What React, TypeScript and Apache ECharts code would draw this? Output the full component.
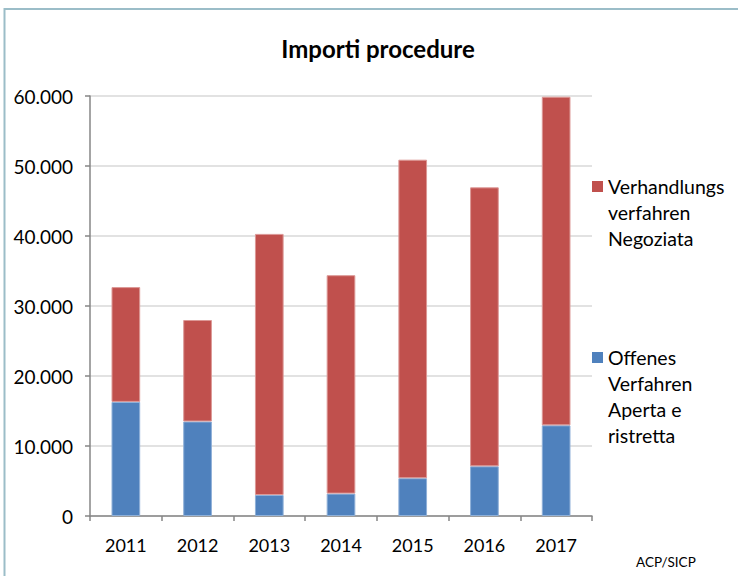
import React, { useEffect, useRef } from "react";
import * as echarts from "echarts";

const years = ["2011", "2012", "2013", "2014", "2015", "2016", "2017"];
const offenes = [16300, 13500, 3000, 3200, 5400, 7100, 12950];
const verhandlungs = [16400, 14500, 37300, 31200, 45500, 39850, 46950];
const seriesNames = ["Offenes Verfahren Aperta e ristretta", "Verhandlungsverfahren Negoziata"];
const legendLinesRed = ["Verhandlungs", "verfahren", "Negoziata"];
const legendLinesBlue = ["Offenes", "Verfahren", "Aperta e", "ristretta"];
const titleText = "Importi procedure";
const sourceText = "ACP/SICP";

const FONT = "Lato";
const RED = "#C0504D";
const BLUE = "#4F81BD";

const fmt = (v: number) => String(v).replace(/\B(?=(\d{3})+(?!\d))/g, ".");

export default function App() {
  const ref = useRef<HTMLDivElement>(null);
  useEffect(() => {
    document.body.style.margin = "0";
    const chart = echarts.init(ref.current!, undefined, { renderer: "svg" });
    chart.setOption({
      animation: false,
      backgroundColor: "#ffffff",
      textStyle: { fontFamily: FONT },
      title: {
        text: titleText,
        left: 373,
        textAlign: "center",
        top: 31,
        textStyle: { fontFamily: FONT, fontSize: 24, fontWeight: "bold", color: "#000" },
      },
      grid: { left: 90, right: 146, top: 96, bottom: 60, containLabel: false },
      xAxis: {
        type: "category",
        data: years,
        axisLine: { lineStyle: { color: "#868686", width: 1.5 } },
        axisTick: { show: true, length: 5, lineStyle: { color: "#868686", width: 1.5 } },
        axisLabel: { color: "#000", fontSize: 18, fontFamily: FONT, margin: 20 },
      },
      yAxis: {
        type: "value",
        min: 0,
        max: 60000,
        interval: 10000,
        axisLine: { show: true, lineStyle: { color: "#868686", width: 1.5 } },
        axisTick: { show: true, length: 5, lineStyle: { color: "#868686", width: 1.5 } },
        splitLine: { lineStyle: { color: "#D9D9D9", width: 1.5 } },
        axisLabel: { color: "#000", fontSize: 19, fontFamily: FONT, margin: 17, formatter: fmt },
      },
      series: [
        {
          name: seriesNames[0],
          type: "bar",
          stack: "t",
          data: offenes,
          barWidth: "40%",
          itemStyle: { color: BLUE, borderColor: "#8fb0d8", borderWidth: 1 },
        },
        {
          name: seriesNames[1],
          type: "bar",
          stack: "t",
          data: verhandlungs,
          barWidth: "40%",
          itemStyle: { color: RED, borderColor: "#dc9896", borderWidth: 1 },
        },
      ],
      graphic: [
        {
          type: "rect",
          silent: true,
          z: -10,
          shape: { x: 4.5, y: 9, width: 760, height: 600 },
          style: { fill: "none", stroke: "#9BBDC8", lineWidth: 2 },
        },
        {
          type: "rect",
          left: 592,
          top: 181,
          shape: { width: 11, height: 11 },
          style: { fill: RED },
        },
        {
          type: "text",
          left: 608,
          top: 173,
          style: { text: legendLinesRed.join("\n"), fontFamily: FONT, fontSize: 19.5, lineHeight: 26, fill: "#000" },
        },
        {
          type: "rect",
          left: 592,
          top: 352,
          shape: { width: 11, height: 11 },
          style: { fill: BLUE },
        },
        {
          type: "text",
          left: 608,
          top: 344,
          style: { text: legendLinesBlue.join("\n"), fontFamily: FONT, fontSize: 19.5, lineHeight: 26, fill: "#000" },
        },
        {
          type: "text",
          left: 636,
          top: 555,
          style: { text: sourceText, fontFamily: FONT, fontSize: 13.5, fill: "#000" },
        },
      ],
    });
    return () => chart.dispose();
  }, []);
  return <div ref={ref} style={{ position: "fixed", left: 0, top: 0, width: 738, height: 576 }} />;
}
